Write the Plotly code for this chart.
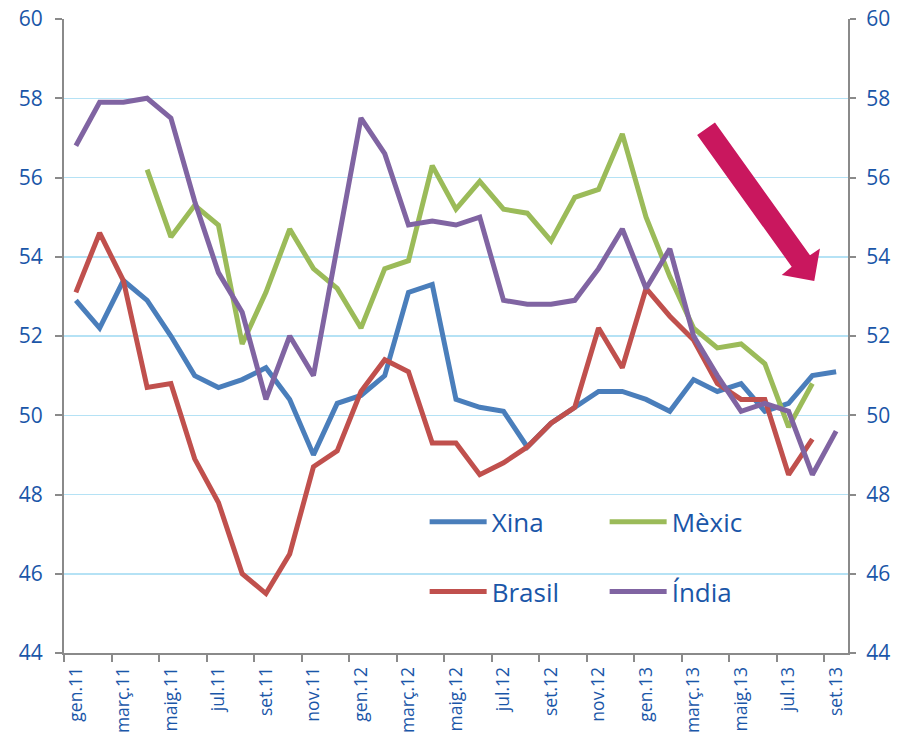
import plotly.graph_objects as go

months = ["gen", "feb", "març", "abr", "maig", "juny", "jul", "ag", "set", "oct", "nov", "des"]
categories = []
for yr in ["11", "12", "13"]:
    for m in months:
        categories.append(m + "." + yr)
categories = categories[:33]  # gen.11 .. set.13

xina = [52.9, 52.2, 53.4, 52.9, 52.0, 51.0, 50.7, 50.9, 51.2, 50.4, 49.0, 50.3,
        50.5, 51.0, 53.1, 53.3, 50.4, 50.2, 50.1, 49.2, 49.8, 50.2, 50.6, 50.6,
        50.4, 50.1, 50.9, 50.6, 50.8, 50.1, 50.3, 51.0, 51.1]
mexic = [None, None, None, 56.2, 54.5, 55.3, 54.8, 51.8, 53.1, 54.7, 53.7, 53.2,
         52.2, 53.7, 53.9, 56.3, 55.2, 55.9, 55.2, 55.1, 54.4, 55.5, 55.7, 57.1,
         55.0, 53.5, 52.2, 51.7, 51.8, 51.3, 49.7, 50.8, None]
brasil = [53.1, 54.6, 53.4, 50.7, 50.8, 48.9, 47.8, 46.0, 45.5, 46.5, 48.7, 49.1,
          50.6, 51.4, 51.1, 49.3, 49.3, 48.5, 48.8, 49.2, 49.8, 50.2, 52.2, 51.2,
          53.2, 52.5, 51.9, 50.8, 50.4, 50.4, 48.5, 49.4, None]
india = [56.8, 57.9, 57.9, 58.0, 57.5, 55.4, 53.6, 52.6, 50.4, 52.0, 51.0, 54.3,
         57.5, 56.6, 54.8, 54.9, 54.8, 55.0, 52.9, 52.8, 52.8, 52.9, 53.7, 54.7,
         53.2, 54.2, 52.0, 51.0, 50.1, 50.3, 50.1, 48.5, 49.6]

series_names = ["Xina", "Mèxic", "Brasil", "Índia"]
series_colors = ["#4A7EBB", "#9BBB59", "#C0504D", "#8064A2"]
series_values = [xina, mexic, brasil, india]
legend_ids = ["legend", "legend", "legend2", "legend2"]

y_ticks = [44, 46, 48, 50, 52, 54, 56, 58, 60]

x_idx = list(range(len(categories)))
label_idx = x_idx[::2]
label_text = [categories[i] for i in label_idx]

FONT = "Open Sans"
TXT = "#1A56A8"
AX = "#8A8A8A"
GRID = "#B5E2F5"

fig = go.Figure()
for name, col, vals, lg in zip(series_names, series_colors, series_values, legend_ids):
    fig.add_trace(go.Scatter(
        x=x_idx, y=vals, name=name, mode="lines",
        line=dict(color=col, width=5),
        connectgaps=False, legend=lg, hoverinfo="skip"))

# invisible trace to anchor the right axis
fig.add_trace(go.Scatter(x=[x_idx[0]], y=[None], yaxis="y2", showlegend=False,
                         hoverinfo="skip"))

fig.update_layout(
    width=897, height=738,
    margin=dict(l=64, r=49, t=19, b=85),
    plot_bgcolor="white", paper_bgcolor="white",
    font=dict(family=FONT, color=TXT),
    xaxis=dict(
        range=[-0.5, 32.5], tickmode="array", tickvals=label_idx, ticktext=label_text,
        tickangle=-90, ticks="", showgrid=False, zeroline=False, automargin=False,
        showline=True, linecolor=AX, linewidth=2,
        tickfont=dict(family=FONT, size=17.5, color=TXT),
        ticklabelstandoff=5,
        minor=dict(tickmode="array", tickvals=[i - 0.5 for i in label_idx],
                   ticks="outside", ticklen=7, tickwidth=2, tickcolor=AX, showgrid=False),
    ),
    yaxis=dict(
        range=[44, 60], tickmode="array", tickvals=y_ticks, automargin=False,
        showgrid=True, gridcolor=GRID, gridwidth=1.5, zeroline=False,
        showline=True, linecolor=AX, linewidth=2,
        ticks="outside", ticklen=7, tickwidth=2, tickcolor=AX,
        tickfont=dict(family=FONT, size=21, color=TXT),
        ticklabelstandoff=8,
    ),
    yaxis2=dict(
        range=[44, 60], tickmode="array", tickvals=y_ticks, overlaying="y", side="right",
        showgrid=False, zeroline=False, automargin=False,
        showline=True, linecolor=AX, linewidth=2,
        ticks="outside", ticklen=6, tickwidth=2, tickcolor=AX,
        tickfont=dict(family=FONT, size=21, color=TXT),
        ticklabelstandoff=6,
    ),
    legend=dict(
        orientation="h", x=0.46, y=0.207, xanchor="left", yanchor="middle",
        bgcolor="rgba(0,0,0,0)", font=dict(family=FONT, size=26, color=TXT),
        itemwidth=57, entrywidth=108, entrywidthmode="pixels", tracegroupgap=0,
    ),
    legend2=dict(
        orientation="h", x=0.46, y=0.097, xanchor="left", yanchor="middle",
        bgcolor="rgba(0,0,0,0)", font=dict(family=FONT, size=26, color=TXT),
        itemwidth=57, entrywidth=108, entrywidthmode="pixels", tracegroupgap=0,
    ),
    showlegend=True,
)

# decorative downward arrow
arrow_path = ("M 26.15,57.07 L 26.90,57.39 L 30.90,54.04 L 31.32,54.21 "
              "L 31.08,53.39 L 29.71,53.54 L 30.13,53.75 Z")
fig.add_shape(type="path", path=arrow_path, xref="x", yref="y",
              fillcolor="#C9175E", line=dict(width=0), layer="above")

# place the figure at the page origin (remove default body margin)
fig.write_html(
    "out.html",
    config={"displayModeBar": False, "staticPlot": True},
    post_script="document.body.style.margin='0';document.body.style.overflow='hidden';",
)
